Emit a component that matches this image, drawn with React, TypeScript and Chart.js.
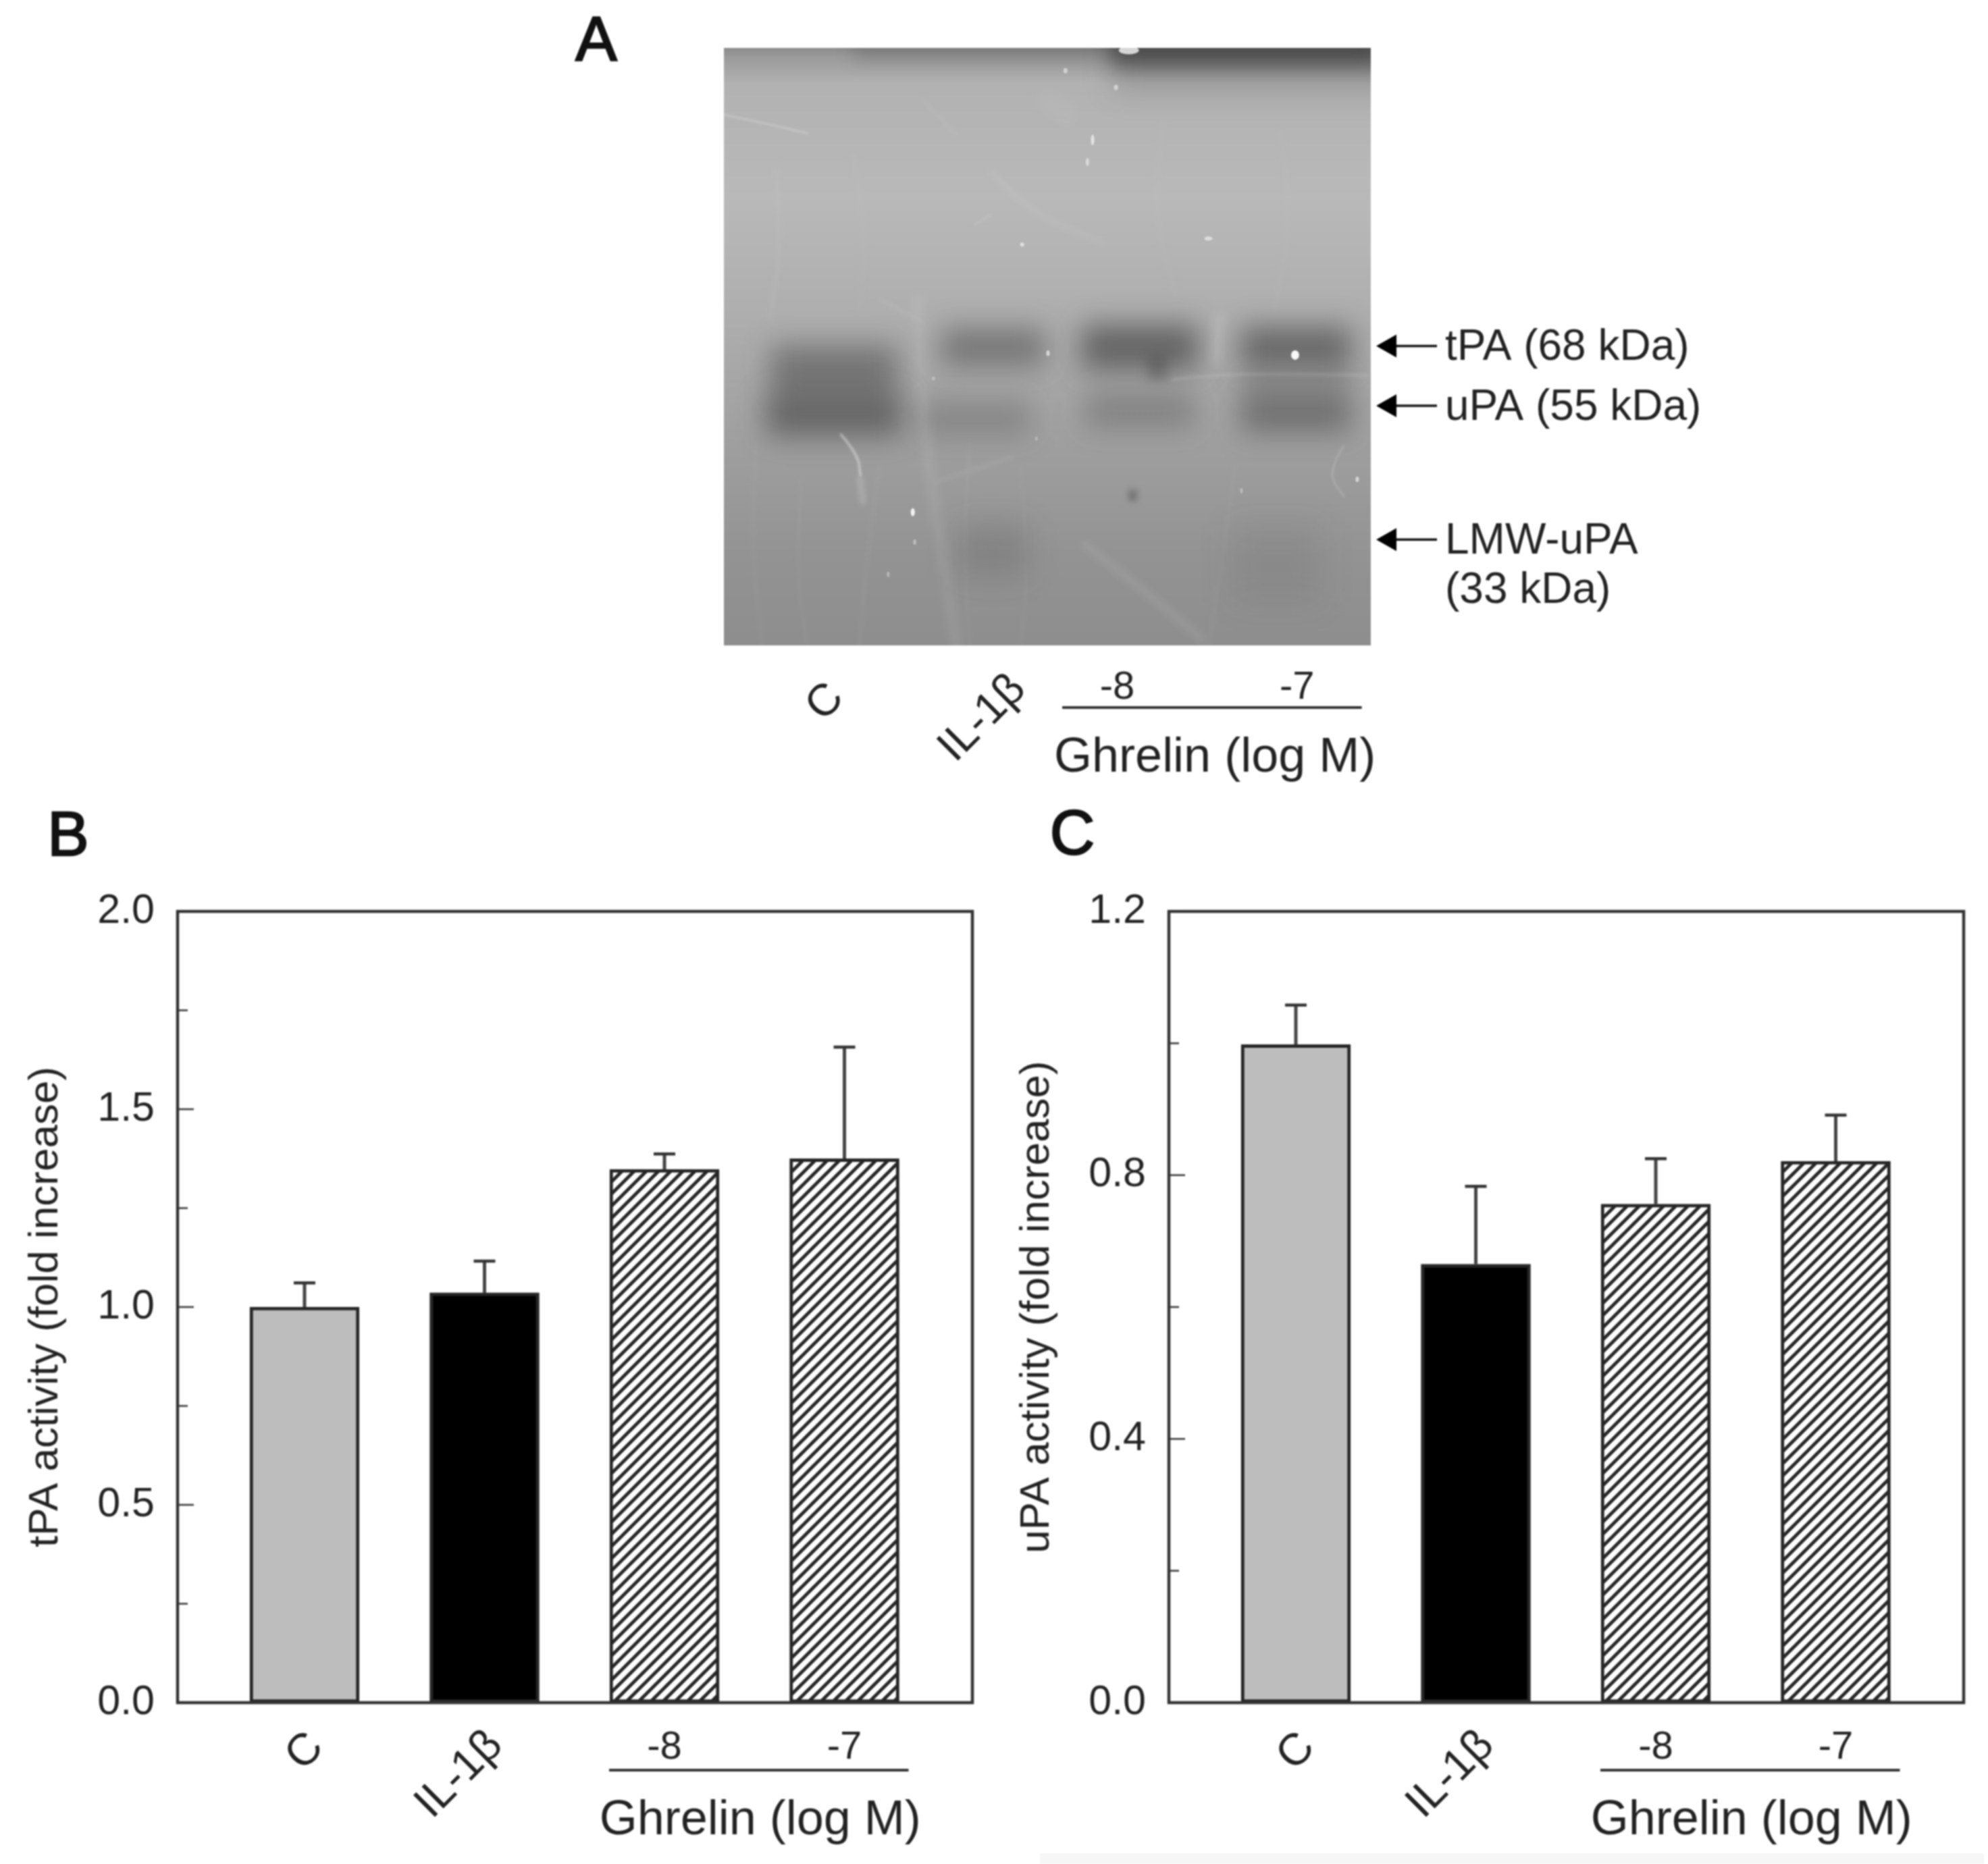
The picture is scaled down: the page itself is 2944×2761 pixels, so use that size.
import React, { useEffect, useRef } from "react";
import { Chart, registerables } from "chart.js";

Chart.register(...registerables);

const FONT = '"Liberation Sans", Arial, sans-serif';
const INK = "#222222";

// ---- data ----
const categories = ["C", "IL-1β", "-8", "-7"];
const groupLabel = "Ghrelin (log M)";
const barPositions = [1, 2, 3, 4];

const tpaValues = [1.0, 1.036, 1.348, 1.375];
const tpaErrorTops = [1.061, 1.116, 1.387, 1.657];
const tpaTitle = "tPA activity (fold increase)";
const tpaMax = 2.0;
const tpaMajorStep = 0.5;
const tpaMinorStep = 0.25;

const upaValues = [0.998, 0.665, 0.756, 0.821];
const upaErrorTops = [1.058, 0.783, 0.825, 0.891];
const upaTitle = "uPA activity (fold increase)";
const upaMax = 1.2;
const upaMajorStep = 0.4;
const upaMinorStep = 0.2;

// gel, in percent of the gel's width and height: x, y, width, height, darkness, softness
const gelBands = [
  { x: 17.0, y: 53.1, w: 19.5, h: 7.0, a: 0.4, b: 20 },
  { x: 17.0, y: 57.3, w: 18.5, h: 5.0, a: 0.28, b: 20 },
  { x: 17.0, y: 61.6, w: 21.0, h: 7.0, a: 0.5, b: 20 },
  { x: 41.6, y: 50.1, w: 16.0, h: 6.5, a: 0.42, b: 20 },
  { x: 38.9, y: 61.9, w: 17.0, h: 6.0, a: 0.24, b: 20 },
  { x: 64.3, y: 50.1, w: 18.0, h: 7.5, a: 0.58, b: 20 },
  { x: 67.0, y: 53.6, w: 3.1, h: 4.0, a: 0.28, b: 8 },
  { x: 64.3, y: 60.6, w: 17.0, h: 6.0, a: 0.28, b: 20 },
  { x: 88.4, y: 50.1, w: 17.0, h: 7.0, a: 0.54, b: 20 },
  { x: 88.4, y: 56.2, w: 16.5, h: 4.0, a: 0.22, b: 18 },
  { x: 88.4, y: 61.1, w: 17.0, h: 6.5, a: 0.44, b: 20 },
  { x: 41.6, y: 84.0, w: 11.0, h: 9.0, a: 0.16, b: 22 },
  { x: 85.4, y: 86.3, w: 14.0, h: 13.0, a: 0.09, b: 24 },
  { x: 85.0, y: 0.0, w: 50.0, h: 6.0, a: 0.55, b: 14 },
  { x: 85.0, y: 0.0, w: 50.0, h: 14.0, a: 0.2, b: 22 },
  { x: 60.0, y: 0.0, w: 80.0, h: 4.0, a: 0.2, b: 12 },
  { x: 63.2, y: 74.9, w: 1.3, h: 1.9, a: 0.35, b: 4 },
];
const gelShades = [
  [0, "#8c8c8c"],
  [1.5, "#9a9a9a"],
  [6, "#b2b2b2"],
  [25, "#b9b9b9"],
  [45, "#aeaeae"],
  [65, "#a0a0a0"],
  [85, "#939393"],
  [100, "#8e8e8e"],
];
const gelStreaks = [
  { pts: [[0, 11.2], [6, 12.5], [12.9, 14.3]], a: 0.3, lw: 3, b: 1.5 },
  { pts: [[18.1, 64.7], [20.7, 68], [21.1, 71.5]], a: 0.5, lw: 3.5, b: 1.5 },
  { pts: [[21, 72], [21.5, 76]], a: 0.18, lw: 10, b: 3 },
  { pts: [[69.3, 55.5], [77.2, 54.4], [99.5, 54.8]], a: 0.16, lw: 4, b: 2 },
  { pts: [[30, 42], [30.5, 60], [33, 80], [36, 100]], a: 0.09, lw: 16, b: 7 },
  { pts: [[76.6, 45], [76, 52]], a: 0.16, lw: 16, b: 7 },
  { pts: [[56, 83.3], [64, 90], [74, 99]], a: 0.08, lw: 14, b: 5 },
  { pts: [[95.8, 66.6], [93.2, 71], [95.8, 75]], a: 0.22, lw: 2.5, b: 1.5 },
  { pts: [[32.7, 72.7], [44.7, 68.4]], a: 0.1, lw: 5, b: 3 },
  { pts: [[30.7, 8.6], [36, 14.6]], a: 0.08, lw: 4, b: 3 },
  { pts: [[41.3, 20.6], [46.7, 27.3], [58.7, 32.7]], a: 0.08, lw: 8, b: 4 },
  { pts: [[50, 9], [53, 11]], a: 0.06, lw: 30, b: 8 },
  { pts: [[38.7, 29.6], [41.3, 27.9]], a: 0.14, lw: 3, b: 1.5 },
  { pts: [[24, 42], [30.7, 45.9]], a: 0.08, lw: 5, b: 3 },
  { pts: [[5, 66], [4, 82], [6, 100]], a: 0.04, lw: 6, b: 3 },
  { pts: [[12, 72], [11, 88], [13, 100]], a: 0.04, lw: 5, b: 3 },
  { pts: [[24, 70], [22, 86], [21, 100]], a: 0.05, lw: 5, b: 3 },
  { pts: [[38, 66], [37, 82], [38, 100]], a: 0.04, lw: 6, b: 3 },
  { pts: [[46, 70], [47, 86], [46, 100]], a: 0.04, lw: 5, b: 3 },
  { pts: [[79, 70], [77, 86], [75, 100]], a: 0.04, lw: 6, b: 3 },
  { pts: [[8, 20], [9, 32], [7, 46]], a: 0.05, lw: 8, b: 4 },
  { pts: [[20, 18], [22, 30], [21, 44]], a: 0.04, lw: 8, b: 4 },
  { pts: [[68, 12], [66, 26], [70, 42]], a: 0.04, lw: 8, b: 4 },
  { pts: [[86, 14], [88, 28], [85, 44]], a: 0.04, lw: 8, b: 4 },
];
const gelSpecks = [
  { x: 52.8, y: 3.8, r: 3, ry: 4, a: 0.55 },
  { x: 60.6, y: 6.6, r: 3, ry: 4, a: 0.55 },
  { x: 57.0, y: 15.4, r: 2.5, ry: 8, a: 0.7 },
  { x: 56.2, y: 19.1, r: 2.5, ry: 6, a: 0.55 },
  { x: 74.9, y: 31.9, r: 6, ry: 3, a: 0.6 },
  { x: 46.1, y: 32.9, r: 3, ry: 3, a: 0.65 },
  { x: 50.1, y: 51.1, r: 2.5, ry: 4, a: 0.7 },
  { x: 88.3, y: 51.4, r: 6, ry: 7, a: 1 },
  { x: 29.2, y: 77.7, r: 3, ry: 6, a: 0.95 },
  { x: 32.4, y: 55.3, r: 2.5, ry: 3, a: 0.3 },
  { x: 29.5, y: 82.7, r: 2, ry: 4, a: 0.45 },
  { x: 25.4, y: 88.1, r: 2, ry: 4, a: 0.4 },
  { x: 97.9, y: 72.2, r: 2.5, ry: 4, a: 0.65 },
  { x: 80.0, y: 74.1, r: 2, ry: 4, a: 0.35 },
  { x: 48.3, y: 65.4, r: 2, ry: 3, a: 0.3 },
  { x: 62.6, y: 0.4, r: 15, ry: 6, a: 0.8 },
];
const gelLaneLabels = [
  { x: 15.7, y: 109.2 },
  { x: 40.0, y: 111.9 },
  { x: 60.8, y: 106.8 },
  { x: 88.6, y: 106.8 },
];
const gelRule = { x0: 52.3, x1: 98.6, y: 110.4 };
const gelGroupLabel = { x: 75.9, y: 118.6 };
const gelMarkers = [
  { text: "tPA (68 kDa)", y: 49.9 },
  { text: "uPA (55 kDa)", y: 59.9 },
  { text: "LMW-uPA", y: 82.3 },
];
const gelMarkerNote = { text: "(33 kDa)", y: 90.6 };

function text(ctx: CanvasRenderingContext2D, s: string, x: number, y: number, size: number, opts: any = {}) {
  ctx.save();
  ctx.translate(x, y + 3);
  if (opts.rot) ctx.rotate(opts.rot);
  ctx.font = `normal ${size}px ${FONT}`;
  ctx.fillStyle = opts.heavy ? "#111111" : INK;
  ctx.textAlign = opts.align || "center";
  ctx.textBaseline = "middle";
  ctx.fillText(s, 0, 0);
  if (opts.heavy) {
    ctx.strokeStyle = "#111111";
    ctx.lineWidth = opts.heavy;
    ctx.strokeText(s, 0, 0);
  }
  ctx.restore();
}

function hatch(): CanvasPattern {
  const t = 18;
  const c = document.createElement("canvas");
  c.width = t;
  c.height = t;
  const g = c.getContext("2d")!;
  g.fillStyle = "#ffffff";
  g.fillRect(0, 0, t, t);
  g.strokeStyle = "#262626";
  g.lineWidth = 5;
  [[-t, t, t, -t], [0, t, t, 0], [0, 2 * t, 2 * t, 0]].forEach(([a, b, d, e]) => {
    g.beginPath();
    g.moveTo(a, b);
    g.lineTo(d, e);
    g.stroke();
  });
  return g.createPattern(c, "repeat")!;
}

function panelPlugin(cfg: any) {
  return {
    id: "panel",
    beforeDraw(chart: any) {
      if (cfg.strip) {
        const c = chart.ctx;
        c.fillStyle = "#f6f6f6";
        c.fillRect(cfg.strip[0], cfg.strip[1], cfg.strip[2], cfg.strip[3]);
      }
    },
    afterDatasetsDraw(chart: any) {
      const c: CanvasRenderingContext2D = chart.ctx;
      const xs = chart.scales.x;
      const ys = chart.scales.y;
      const a = chart.chartArea;
      // error bars
      cfg.tops.forEach((top: number, i: number) => {
        const px = xs.getPixelForValue(barPositions[i]);
        const p0 = ys.getPixelForValue(cfg.values[i]);
        const p1 = ys.getPixelForValue(top);
        c.strokeStyle = "#444444";
        c.lineWidth = 5;
        c.beginPath();
        c.moveTo(px, p0);
        c.lineTo(px, p1);
        c.stroke();
        c.strokeStyle = "#333333";
        c.lineWidth = 4.5;
        c.beginPath();
        c.moveTo(px - 16, p1);
        c.lineTo(px + 16, p1);
        c.stroke();
      });
      // frame
      c.strokeStyle = "#333333";
      c.lineWidth = 4.5;
      c.strokeRect(a.left, a.top, a.right - a.left, a.bottom - a.top);
      // inward ticks
      c.lineWidth = 2.5;
      ys.ticks.forEach((t: any) => {
        const r = t.value / cfg.majorStep;
        const major = Math.abs(r - Math.round(r)) < 1e-6;
        const p = ys.getPixelForValue(t.value);
        c.beginPath();
        c.moveTo(a.left, p);
        c.lineTo(a.left + (major ? 24 : 15), p);
        c.stroke();
      });
      // category labels
      const base = a.bottom;
      text(c, categories[0], xs.getPixelForValue(barPositions[0]) + 1, base + 70, 66, { rot: -Math.PI / 4 });
      text(c, categories[1], xs.getPixelForValue(barPositions[1]) - 37, base + 104, 66, { rot: -Math.PI / 4 });
      text(c, categories[2], xs.getPixelForValue(barPositions[2]), base + 64, 58);
      text(c, categories[3], xs.getPixelForValue(barPositions[3]), base + 64, 58);
      const rx0 = xs.getPixelForValue(barPositions[2]) - 82;
      const rx1 = xs.getPixelForValue(barPositions[3]) + 95;
      c.strokeStyle = "#333333";
      c.lineWidth = 4;
      c.beginPath();
      c.moveTo(rx0, base + 100);
      c.lineTo(rx1, base + 100);
      c.stroke();
      text(c, groupLabel, (rx0 + rx1) / 2 + 2, base + 172, 72);
      text(c, cfg.letter, cfg.letterX, cfg.letterY, 92, { heavy: 2.5 });
    },
  };
}

function makePanel(canvas: HTMLCanvasElement, cfg: any) {
  const pattern = hatch();
  return new Chart(canvas, {
    type: "bar",
    data: {
      datasets: [
        {
          data: barPositions.map((x, i) => ({ x, y: cfg.values[i] })),
          backgroundColor: ["#bdbdbd", "#000000", pattern, pattern],
          borderColor: "#262626",
          borderWidth: 5,
          borderSkipped: false,
          barThickness: 162,
        },
      ],
    },
    options: {
      animation: false,
      responsive: false,
      devicePixelRatio: 1,
      layout: { padding: { top: 170, bottom: 239, left: 0, right: 30 } },
      plugins: { legend: { display: false }, tooltip: { enabled: false } },
      scales: {
        x: {
          type: "linear",
          offset: false,
          min: 0.2946,
          max: 4.711,
          grid: { display: false },
          border: { display: false },
          ticks: { display: false },
          afterFit: (s: any) => {
            s.height = 0;
          },
        },
        y: {
          min: 0,
          max: cfg.max,
          grid: { display: false, drawTicks: false },
          border: { display: false },
          title: {
            display: true,
            text: cfg.title,
            color: INK,
            font: { family: FONT, size: 62 },
            padding: { top: 31, bottom: 0 },
          },
          ticks: {
            stepSize: cfg.minorStep,
            autoSkip: false,
            padding: 34,
            color: INK,
            font: { family: FONT, size: 61 },
            callback: (v: any) => {
              const r = v / cfg.majorStep;
              return Math.abs(r - Math.round(r)) < 1e-6 ? Number(v).toFixed(1) : "";
            },
          },
          afterFit: (s: any) => {
            s.width = cfg.axisWidth;
          },
        },
      },
    },
    plugins: [panelPlugin(cfg)],
  } as any);
}

const gelPlugin = {
  id: "gel",
  afterDatasetsDraw(chart: any) {
    const c: CanvasRenderingContext2D = chart.ctx;
    const xs = chart.scales.x;
    const ys = chart.scales.y;
    const a = chart.chartArea;
    const W = (v: number) => xs.getPixelForValue(v);
    const H = (v: number) => ys.getPixelForValue(v);
    const pxW = (v: number) => Math.abs(W(v) - W(0));
    const pxH = (v: number) => Math.abs(H(v) - H(0));

    c.save();
    c.beginPath();
    c.rect(a.left, a.top, a.right - a.left, a.bottom - a.top);
    c.clip();
    const bg = c.createLinearGradient(0, a.top, 0, a.bottom);
    gelShades.forEach(([p, col]) => bg.addColorStop((p as number) / 100, col as string));
    c.fillStyle = bg;
    c.fillRect(a.left, a.top, a.right - a.left, a.bottom - a.top);

    gelBands.forEach((b) => {
      c.filter = `blur(${b.b}px)`;
      c.fillStyle = `rgba(50,50,50,${b.a})`;
      const w = pxW(b.w);
      const h = pxH(b.h);
      c.fillRect(W(b.x) - w / 2, H(b.y) - h / 2, w, h);
    });

    c.lineCap = "round";
    gelStreaks.forEach((s) => {
      c.filter = `blur(${s.b}px)`;
      c.strokeStyle = `rgba(240,240,240,${s.a})`;
      c.lineWidth = s.lw;
      c.beginPath();
      c.moveTo(W(s.pts[0][0]), H(s.pts[0][1]));
      for (let i = 1; i < s.pts.length - 1; i++) {
        const mx = (s.pts[i][0] + s.pts[i + 1][0]) / 2;
        const my = (s.pts[i][1] + s.pts[i + 1][1]) / 2;
        c.quadraticCurveTo(W(s.pts[i][0]), H(s.pts[i][1]), W(mx), H(my));
      }
      const last = s.pts[s.pts.length - 1];
      c.lineTo(W(last[0]), H(last[1]));
      c.stroke();
    });
    c.filter = "none";
    gelSpecks.forEach((s) => {
      c.fillStyle = `rgba(248,248,248,${s.a})`;
      c.beginPath();
      c.ellipse(W(s.x), H(s.y), s.r, s.ry, 0, 0, Math.PI * 2);
      c.fill();
    });
    c.restore();

    // outside-the-gel annotations
    gelLaneLabels.forEach((l, i) => {
      const rotated = i < 2;
      text(c, categories[i], W(l.x), H(l.y), rotated ? 66 : 58, rotated ? { rot: -Math.PI / 4 } : {});
    });
    c.strokeStyle = "#333333";
    c.lineWidth = 4;
    c.beginPath();
    c.moveTo(W(gelRule.x0), H(gelRule.y));
    c.lineTo(W(gelRule.x1), H(gelRule.y));
    c.stroke();
    text(c, groupLabel, W(gelGroupLabel.x), H(gelGroupLabel.y), 72);

    const tipX = a.right + 8;
    const tailX = a.right + 98;
    gelMarkers.forEach((m) => {
      const y = H(m.y);
      c.strokeStyle = "#111111";
      c.lineWidth = 3.5;
      c.beginPath();
      c.moveTo(tipX + 20, y);
      c.lineTo(tailX, y);
      c.stroke();
      c.fillStyle = "#000000";
      c.beginPath();
      c.moveTo(tipX, y);
      c.lineTo(tipX + 30, y - 17);
      c.lineTo(tipX + 30, y + 17);
      c.closePath();
      c.fill();
      text(c, m.text, a.right + 110, y, 64, { align: "left" });
    });
    text(c, gelMarkerNote.text, a.right + 110, H(gelMarkerNote.y), 64, { align: "left" });
    text(c, "A", 883, 62, 92, { heavy: 2.5 });
  },
};

function makeGel(canvas: HTMLCanvasElement) {
  return new Chart(canvas, {
    type: "scatter",
    data: {
      datasets: [{ data: gelBands.map((b) => ({ x: b.x, y: b.y })), pointRadius: 0, showLine: false }],
    },
    options: {
      animation: false,
      responsive: false,
      devicePixelRatio: 1,
      layout: { padding: { top: 71, bottom: 1180 - 956, left: 1072, right: 2944 - 2030 } },
      plugins: { legend: { display: false }, tooltip: { enabled: false } },
      scales: {
        x: {
          type: "linear",
          min: 0,
          max: 100,
          grid: { display: false },
          border: { display: false },
          ticks: { display: false },
          afterFit: (s: any) => {
            s.height = 0;
          },
        },
        y: {
          type: "linear",
          reverse: true,
          min: 0,
          max: 100,
          grid: { display: false },
          border: { display: false },
          ticks: { display: false },
          afterFit: (s: any) => {
            s.width = 0;
          },
        },
      },
    },
    plugins: [gelPlugin],
  } as any);
}

const canvasStyle = (left: number, top: number): React.CSSProperties => ({
  position: "absolute",
  left,
  top,
  display: "block",
  filter: "blur(1px)",
});

export default function App() {
  const a = useRef<HTMLCanvasElement>(null);
  const b = useRef<HTMLCanvasElement>(null);
  const cc = useRef<HTMLCanvasElement>(null);
  useEffect(() => {
    const charts = [
      makeGel(a.current!),
      makePanel(b.current!, {
        values: tpaValues,
        tops: tpaErrorTops,
        title: tpaTitle,
        max: tpaMax,
        majorStep: tpaMajorStep,
        minorStep: tpaMinorStep,
        axisWidth: 263,
        letter: "B",
        letterX: 101,
        letterY: 59,
      }),
      makePanel(cc.current!, {
        values: upaValues,
        tops: upaErrorTops,
        title: upaTitle,
        max: upaMax,
        majorStep: upaMajorStep,
        minorStep: upaMinorStep,
        axisWidth: 263,
        letter: "C",
        letterX: 120,
        letterY: 57,
        strip: [72, 1565, 1400, 16],
      }),
    ];
    return () => charts.forEach((c) => c.destroy());
  }, []);
  return (
    <div style={{ position: "absolute", left: 0, top: 0, width: 2944, height: 2761, overflow: "hidden", background: "#fff" }}>
      <canvas ref={a} width={2944} height={1180} style={canvasStyle(0, 0)} />
      <canvas ref={b} width={1470} height={1581} style={canvasStyle(0, 1180)} />
      <canvas ref={cc} width={1470} height={1581} style={canvasStyle(1468, 1180)} />
    </div>
  );
}
